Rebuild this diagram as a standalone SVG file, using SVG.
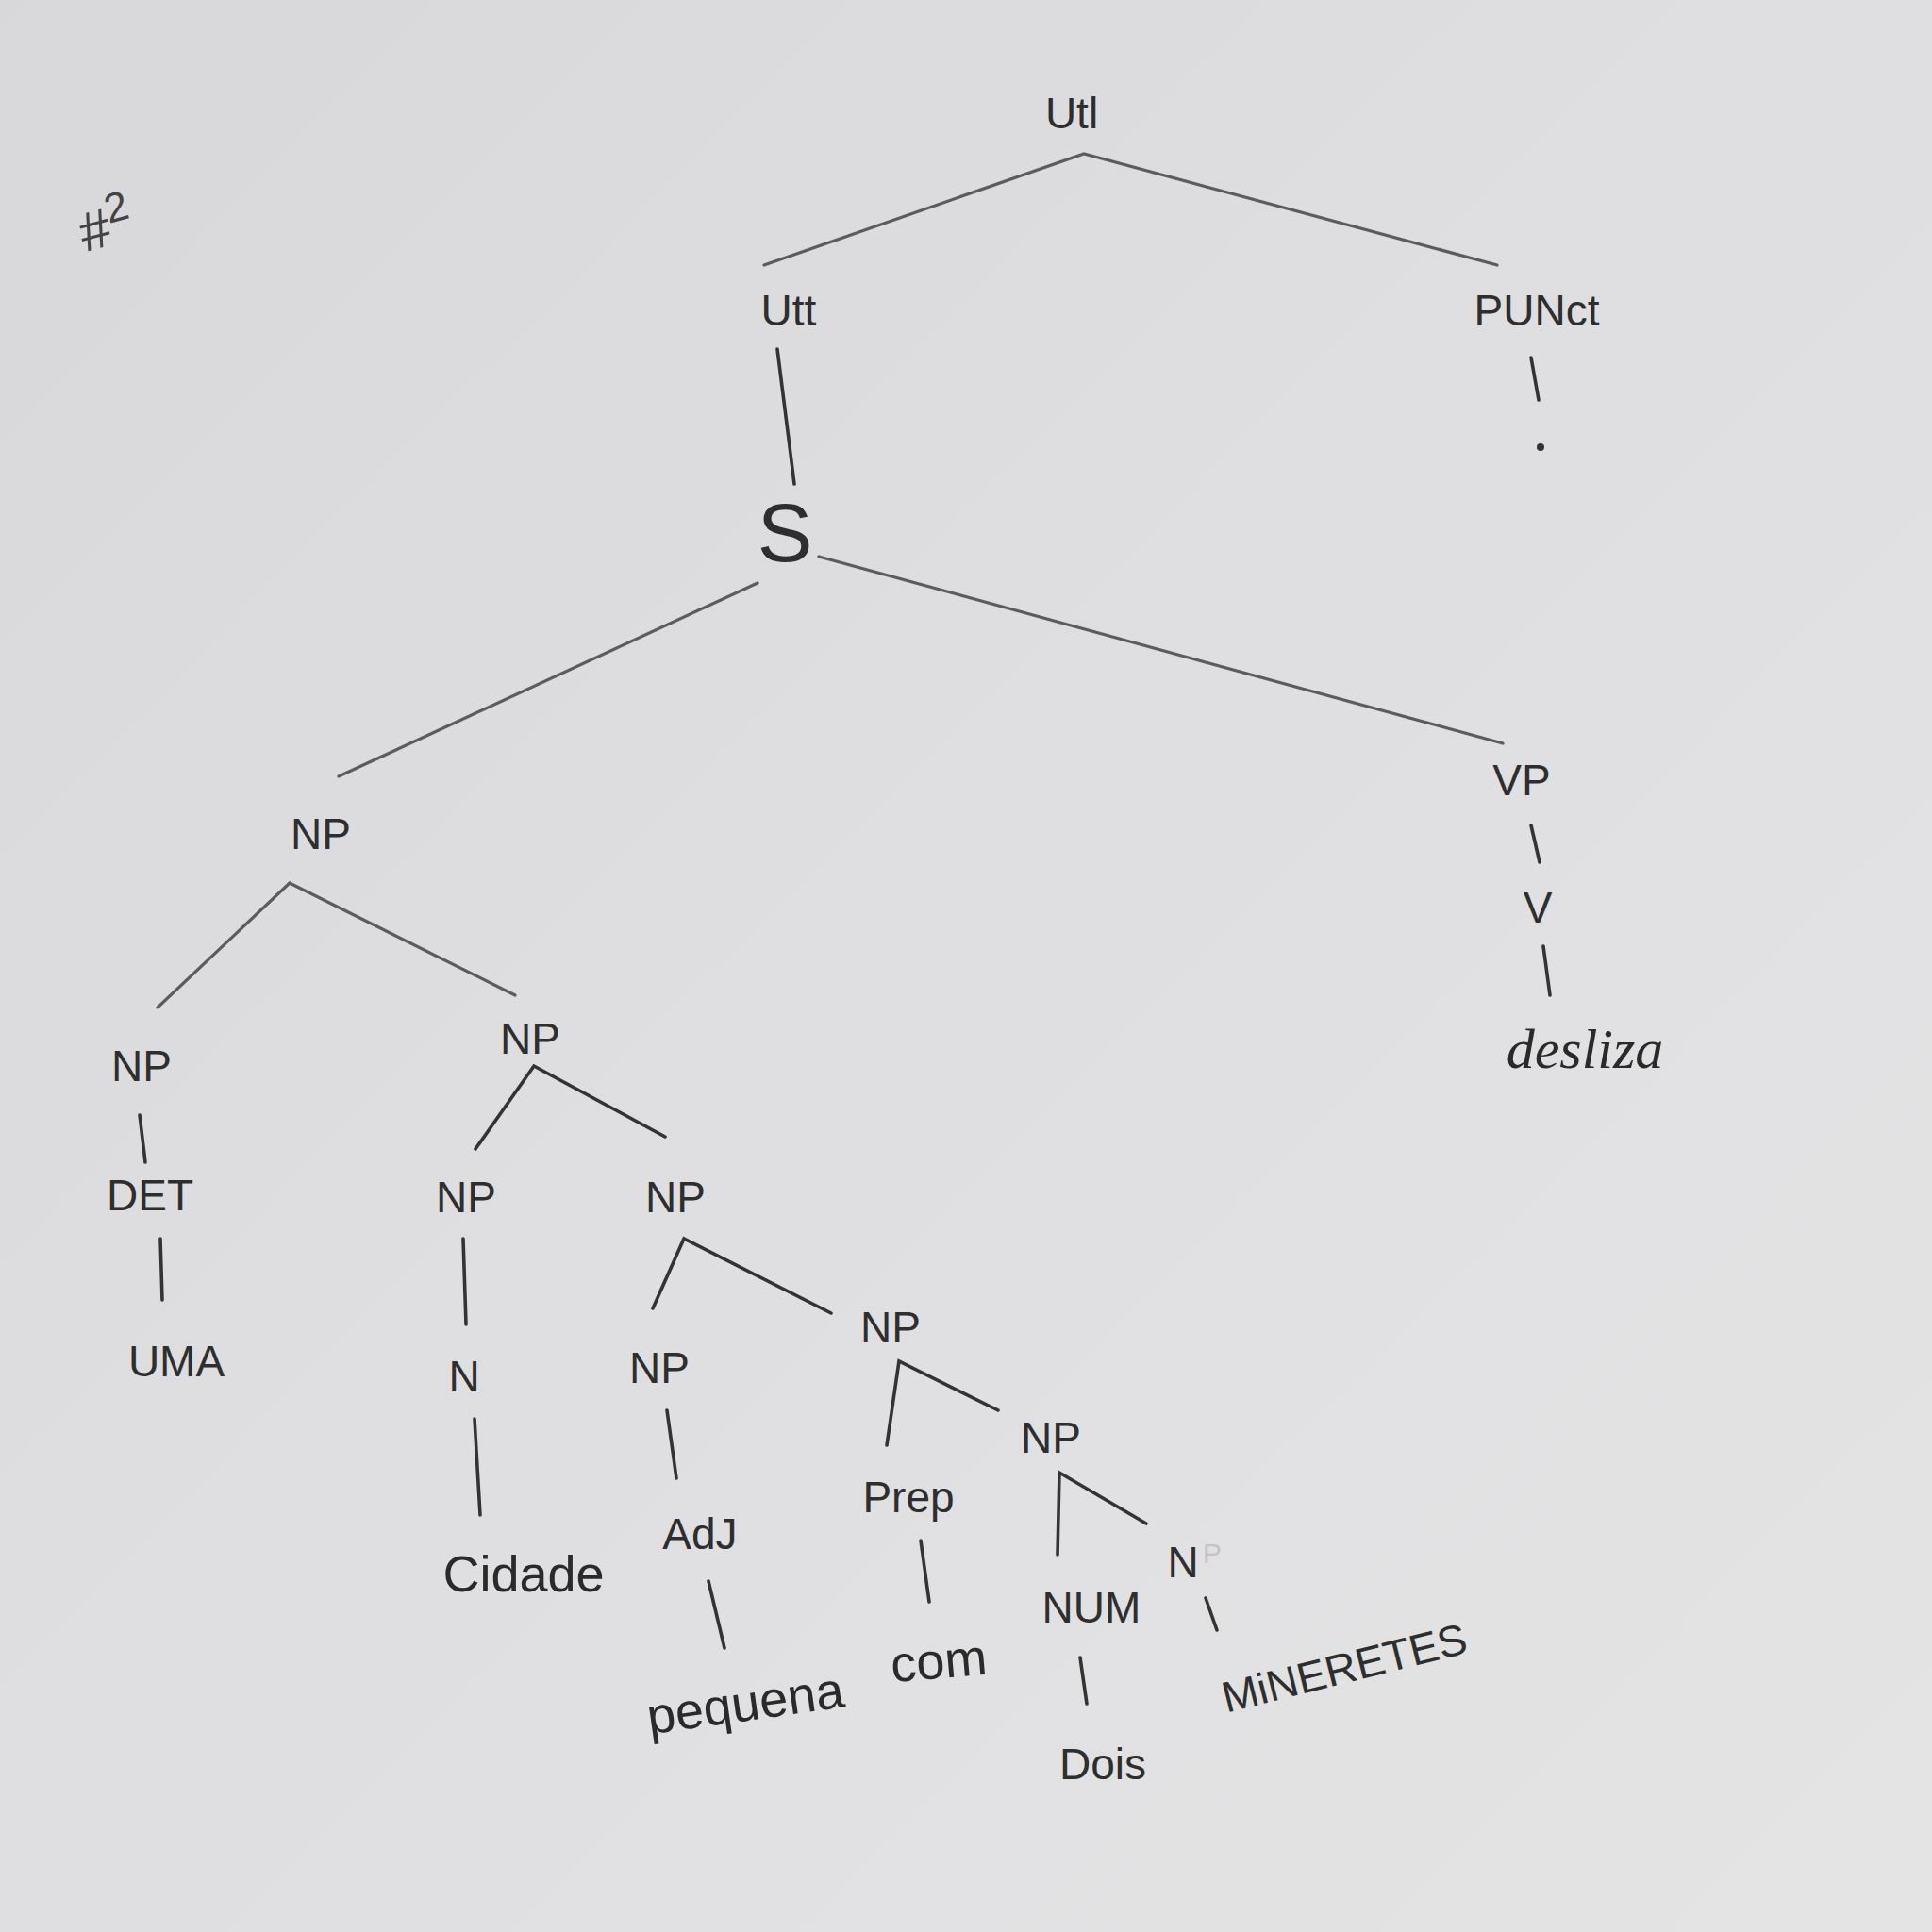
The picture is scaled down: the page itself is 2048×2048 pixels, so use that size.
<svg xmlns="http://www.w3.org/2000/svg" width="2048" height="2048" viewBox="0 0 2048 2048">
  <defs>
    <linearGradient id="paper" x1="0" y1="0" x2="1" y2="1">
      <stop offset="0" stop-color="#d8d8da"/>
      <stop offset="0.5" stop-color="#dfdfe1"/>
      <stop offset="1" stop-color="#e4e4e5"/>
    </linearGradient>
    <style>
      .edge { stroke: #5c5c5c; stroke-width: 3.2; stroke-linecap: round; fill: none; }
      .tick { stroke: #333; stroke-width: 3.6; stroke-linecap: round; fill: none; }
      .lbl { font-family: "Liberation Sans", "DejaVu Sans", sans-serif; font-size: 46px; fill: #2e2e2e; text-anchor: middle; dominant-baseline: central; }
      .word { font-family: "Liberation Sans", "DejaVu Sans", sans-serif; font-size: 54px; fill: #2a2a2a; text-anchor: middle; dominant-baseline: central; }
    </style>
  </defs>

  <rect width="2048" height="2048" fill="url(#paper)"/>

  <!-- sheet number -->
  <text class="lbl" x="112" y="240" transform="rotate(-15 112 240)" style="font-size:58px; fill:#444">#<tspan dy="-18" style="font-size:44px">2</tspan></text>

  <!-- tree edges -->
  <g id="connectors">
    <polyline class="edge" points="810,281 1149,163 1587,281"/>
    <line class="tick" x1="1623" y1="379" x2="1631" y2="424"/>
    <line class="tick" x1="824" y1="370" x2="842" y2="513"/>
    <line class="edge" x1="803" y1="618" x2="359" y2="823"/>
    <line class="edge" x1="868" y1="590" x2="1593" y2="788"/>
    <line class="tick" x1="1623" y1="875" x2="1632" y2="914"/>
    <line class="tick" x1="1636" y1="1003" x2="1643" y2="1055"/>
    <polyline class="edge" points="167,1068 307,936 546,1055"/>
    <line class="tick" x1="148" y1="1182" x2="154" y2="1232"/>
    <line class="tick" x1="170" y1="1313" x2="172" y2="1378"/>
    <polyline class="tick" points="504,1218 566,1130 705,1205"/>
    <line class="tick" x1="491" y1="1313" x2="494" y2="1404"/>
    <line class="tick" x1="503" y1="1504" x2="509" y2="1606"/>
    <polyline class="tick" points="692,1387 725,1313 881,1392"/>
    <line class="tick" x1="707" y1="1495" x2="717" y2="1567"/>
    <line class="tick" x1="751" y1="1676" x2="768" y2="1747"/>
    <polyline class="tick" points="940,1532 953,1443 1058,1495"/>
    <line class="tick" x1="976" y1="1633" x2="985" y2="1698"/>
    <polyline class="tick" points="1121,1648 1123,1561 1215,1615"/>
    <line class="tick" x1="1145" y1="1757" x2="1152" y2="1806"/>
    <line class="tick" x1="1278" y1="1694" x2="1290" y2="1728"/>
  </g>

  <g id="n-utl"><text class="lbl" x="1136" y="120">Utl</text></g>
  <g id="n-utt"><text class="lbl" x="836" y="329">Utt</text></g>
  <g id="n-punct"><text class="lbl" x="1629" y="329">PUNct</text></g>
  <g id="n-dot"><circle cx="1633" cy="474" r="4" fill="#333"/></g>
  <g id="n-s"><text class="lbl" x="832" y="564" style="font-size:88px">S</text></g>
  <g id="n-np1"><text class="lbl" x="340" y="884">NP</text></g>
  <g id="n-vp"><text class="lbl" x="1613" y="827">VP</text></g>
  <g id="n-v"><text class="lbl" x="1630" y="962">V</text></g>
  <g id="n-desliza"><text class="word" x="1680" y="1112" style="font-family:'Liberation Serif', serif; font-style:italic; font-size:60px">desliza</text></g>

  <g id="n-np2"><text class="lbl" x="150" y="1130">NP</text></g>
  <g id="n-det"><text class="lbl" x="159" y="1267">DET</text></g>
  <g id="n-uma"><text class="lbl" x="187" y="1443">UMA</text></g>

  <g id="n-np3"><text class="lbl" x="562" y="1101">NP</text></g>
  <g id="n-np4"><text class="lbl" x="494" y="1269">NP</text></g>
  <g id="n-n1"><text class="lbl" x="492" y="1459">N</text></g>
  <g id="n-cidade"><text class="word" x="555" y="1668">Cidade</text></g>

  <g id="n-np5"><text class="lbl" x="716" y="1269">NP</text></g>
  <g id="n-np6"><text class="lbl" x="699" y="1450">NP</text></g>
  <g id="n-adj"><text class="lbl" x="742" y="1626">AdJ</text></g>
  <g id="n-pequena"><text class="word" x="790" y="1805" transform="rotate(-8 790 1805)">pequena</text></g>

  <g id="n-np7"><text class="lbl" x="944" y="1407">NP</text></g>
  <g id="n-prep"><text class="lbl" x="963" y="1587">Prep</text></g>
  <g id="n-com"><text class="word" x="995" y="1760" transform="rotate(-5 995 1760)">com</text></g>

  <g id="n-np8"><text class="lbl" x="1114" y="1524">NP</text></g>
  <g id="n-num"><text class="lbl" x="1157" y="1704">NUM</text></g>
  <g id="n-dois"><text class="lbl" x="1169" y="1870">Dois</text></g>
  <g id="n-n2">
    <text class="lbl" x="1254" y="1656">N</text>
    <text class="lbl" x="1285" y="1646" style="font-size:30px; fill:#c4c4c6">P</text>
  </g>
  <g id="n-minerietes"><text class="lbl" x="1425" y="1768" transform="rotate(-14 1425 1768)">MiNERETES</text></g>
</svg>
